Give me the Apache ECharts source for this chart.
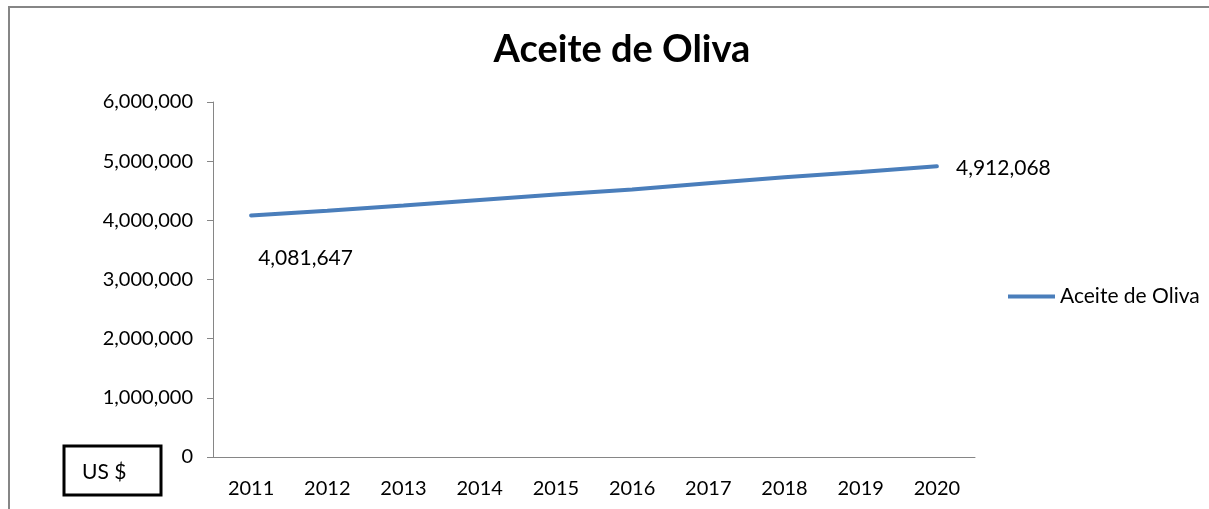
<!DOCTYPE html>
<html>
<head>
<meta charset="utf-8">
<script src="https://cdn.jsdelivr.net/npm/echarts@6/dist/echarts.min.js"></script>
<style>
  html, body { margin: 0; padding: 0; background: #fff; }
  #chart { width: 1209px; height: 509px; }
</style>
</head>
<body>
<div id="chart"></div>
<script>
const years = ['2011', '2012', '2013', '2014', '2015', '2016', '2017', '2018', '2019', '2020']
const valores = [4081647, 4160000, 4250000, 4345000, 4435000, 4520000, 4625000, 4730000, 4815000, 4912068]
const serieNombre = 'Aceite de Oliva'
const unidad = 'US $'

const font = 'Lato, "Open Sans", sans-serif'
const azul = '#4a7ebb'
const gris = '#868686'

const chart = echarts.init(document.getElementById('chart'))

// solo se rotulan el primer y el ultimo punto
const datos = valores.map((v, i) => {
  if (i === 0) return {value: v, label: {show: true, position: 'right', distance: 5, offset: [2, 43]}}
  if (i === valores.length - 1) return {value: v, label: {show: true, position: 'right', distance: 5, offset: [14, 2]}}
  return v
})

const option = {
  animation: false,
  title: {
    text: serieNombre,
    left: 617,
    top: 26,
    textAlign: 'center',
    textStyle: {fontFamily: font, fontSize: 38, fontWeight: 'bold', color: '#000'}
  },
  legend: {
    left: 1008,
    top: 286,
    padding: 0,
    itemWidth: 47,
    itemHeight: 4,
    itemGap: 5,
    data: [{name: serieNombre, icon: 'rect'}],
    textStyle: {fontFamily: font, fontSize: 21, color: '#000'}
  },
  grid: {left: 213, right: 234, top: 102, bottom: 52},
  xAxis: {
    type: 'category',
    data: years,
    boundaryGap: true,
    axisLine: {lineStyle: {color: gris, width: 1}},
    axisTick: {length: 6, lineStyle: {color: gris}},
    axisLabel: {margin: 22, fontFamily: font, fontSize: 20, color: '#000'}
  },
  yAxis: {
    type: 'value',
    min: 0,
    max: 6000000,
    interval: 1000000,
    splitLine: {show: false},
    axisLine: {show: true, lineStyle: {color: gris, width: 1}},
    axisTick: {show: true, length: 6, lineStyle: {color: gris}},
    axisLabel: {
      margin: 20,
      fontFamily: font,
      fontSize: 20,
      color: '#000',
      formatter: v => v.toLocaleString('en-US')
    }
  },
  series: [{
    name: serieNombre,
    type: 'line',
    data: datos,
    symbol: 'circle',
    symbolSize: 0.1,
    showSymbol: true,
    itemStyle: {color: azul},
    lineStyle: {color: azul, width: 4, cap: 'round'},
    label: {
      show: false,
      fontFamily: font,
      fontSize: 21,
      color: '#000',
      formatter: p => p.value.toLocaleString('en-US')
    }
  }],
  graphic: [
    {
      type: 'rect',
      shape: {x: 9, y: 7, width: 1400, height: 700},
      style: {fill: 'none', stroke: gris, lineWidth: 2},
      silent: true
    },
    {
      type: 'rect',
      shape: {x: 64, y: 446, width: 97, height: 49},
      style: {fill: '#fff', stroke: '#000', lineWidth: 3}
    },
    {
      type: 'text',
      left: 82,
      top: 462,
      style: {text: unidad, fontFamily: font, fontSize: 21, fill: '#000'}
    }
  ]
}

chart.setOption(option)
</script>
</body>
</html>
